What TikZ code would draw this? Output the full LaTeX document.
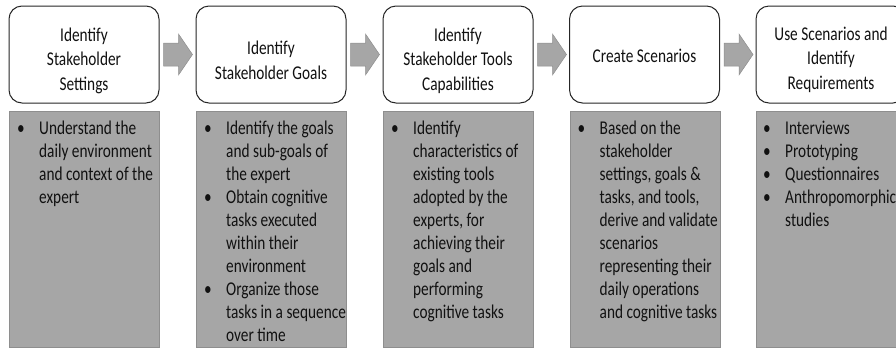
\documentclass[tikz,border=0pt]{standalone}
\usepackage{fontspec}
\setmainfont{Carlito}[FakeStretch=0.785]
\usetikzlibrary{calc}
\definecolor{graybox}{HTML}{A6A6A6}
\definecolor{grayedge}{HTML}{8E8E8E}
\definecolor{txt}{HTML}{111111}
\tikzset{
  topbox/.style={draw=black!85, line width=1pt, rounded corners=13pt, fill=white,
    minimum width=150pt, minimum height=97pt, inner sep=0pt},
  toptext/.style={align=center, inner sep=0pt,
    font=\fontsize{19.5}{24.5}\selectfont, text=txt},
  listbox/.style={draw=grayedge, line width=0.8pt, fill=graybox,
    minimum width=150pt, minimum height=236pt, inner sep=0pt, anchor=north west},
  listtext/.style={anchor=north west, inner sep=0pt, align=left,
    font=\fontsize{19.5}{23}\selectfont, text=txt},
  blockarrow/.style={fill=graybox, draw=grayedge, line width=0.5pt},
}
\newcommand{\blt}{\textbullet}
\newcommand{\barrow}[1]{%
  \path[blockarrow] ($(#1.east)+(4,0)$) ++(0,-11.5) -- ++(15,0) -- ++(0,-9)
    -- ++(14,20.5) -- ++(-14,20.5) -- ++(0,-9) -- ++(-15,0) -- cycle;}
\begin{document}
\begin{tikzpicture}[x=1pt,y=-1pt]
\useasboundingbox (0,0) rectangle (896,349);
\clip (0,0) rectangle (896,349);

% top boxes
\node[topbox] (t1) at (84,54.5) {};
\node[topbox] (t2) at (271,54.5) {};
\node[topbox] (t3) at (458,54.5) {};
\node[topbox] (t4) at (644.5,54.5) {};
\node[topbox] (t5) at (831,54.5) {};

\node[toptext] (tt1) at ($(t1.center)+(0,6)$) {Identify\\Stakeholder\\Settings};
\node[toptext] (tt2) at ($(t2.center)+(0,6)$) {Identify\\Stakeholder Goals};
\node[toptext] (tt3) at ($(t3.center)+(0,6)$) {Identify\\Stakeholder Tools\\Capabilities};
\node[toptext] (tt4) at ($(t4.center)+(0,1)$) {Create Scenarios};
\node[toptext] (tt5) at ($(t5.center)+(0,5)$) {Use Scenarios and\\Identify\\Requirements};

% arrows
\barrow{t1}
\barrow{t2}
\barrow{t3}
\barrow{t4}

% gray boxes
\node[listbox] (g1) at (9,111) {};
\node[listbox] (g2) at (196,111) {};
\node[listbox] (g3) at (383,111) {};
\node[listbox] (g4) at (569.5,111) {};
\node[listbox] (g5) at (756,111) {};

\node[listtext] (l1) at ($(g1.north west)+(8,7)$) {%
\begin{tabular}{@{}p{22pt}@{}l@{}}
\blt & Understand the\\
 & daily environment\\
 & and context of the\\
 & expert
\end{tabular}};

\node[listtext] (l2) at ($(g2.north west)+(8,7)$) {%
\begin{tabular}{@{}p{22pt}@{}l@{}}
\blt & Identify the goals\\
 & and sub-goals of\\
 & the expert\\
\blt & Obtain cognitive\\
 & tasks executed\\
 & within their\\
 & environment\\
\blt & Organize those\\
 & tasks in a sequence\\
 & over time
\end{tabular}};

\node[listtext] (l3) at ($(g3.north west)+(8,7)$) {%
\begin{tabular}{@{}p{22pt}@{}l@{}}
\blt & Identify\\
 & characteristics of\\
 & existing tools\\
 & adopted by the\\
 & experts, for\\
 & achieving their\\
 & goals and\\
 & performing\\
 & cognitive tasks
\end{tabular}};

\node[listtext] (l4) at ($(g4.north west)+(8,7)$) {%
\begin{tabular}{@{}p{22pt}@{}l@{}}
\blt & Based on the\\
 & stakeholder\\
 & settings, goals \&\\
 & tasks, and tools,\\
 & derive and validate\\
 & scenarios\\
 & representing their\\
 & daily operations\\
 & and cognitive tasks
\end{tabular}};

\node[listtext] (l5) at ($(g5.north west)+(7,7)$) {%
\begin{tabular}{@{}p{22pt}@{}l@{}}
\blt & Interviews\\
\blt & Prototyping\\
\blt & Questionnaires\\
\blt & Anthropomorphic\\
 & studies
\end{tabular}};
\end{tikzpicture}
\end{document}
